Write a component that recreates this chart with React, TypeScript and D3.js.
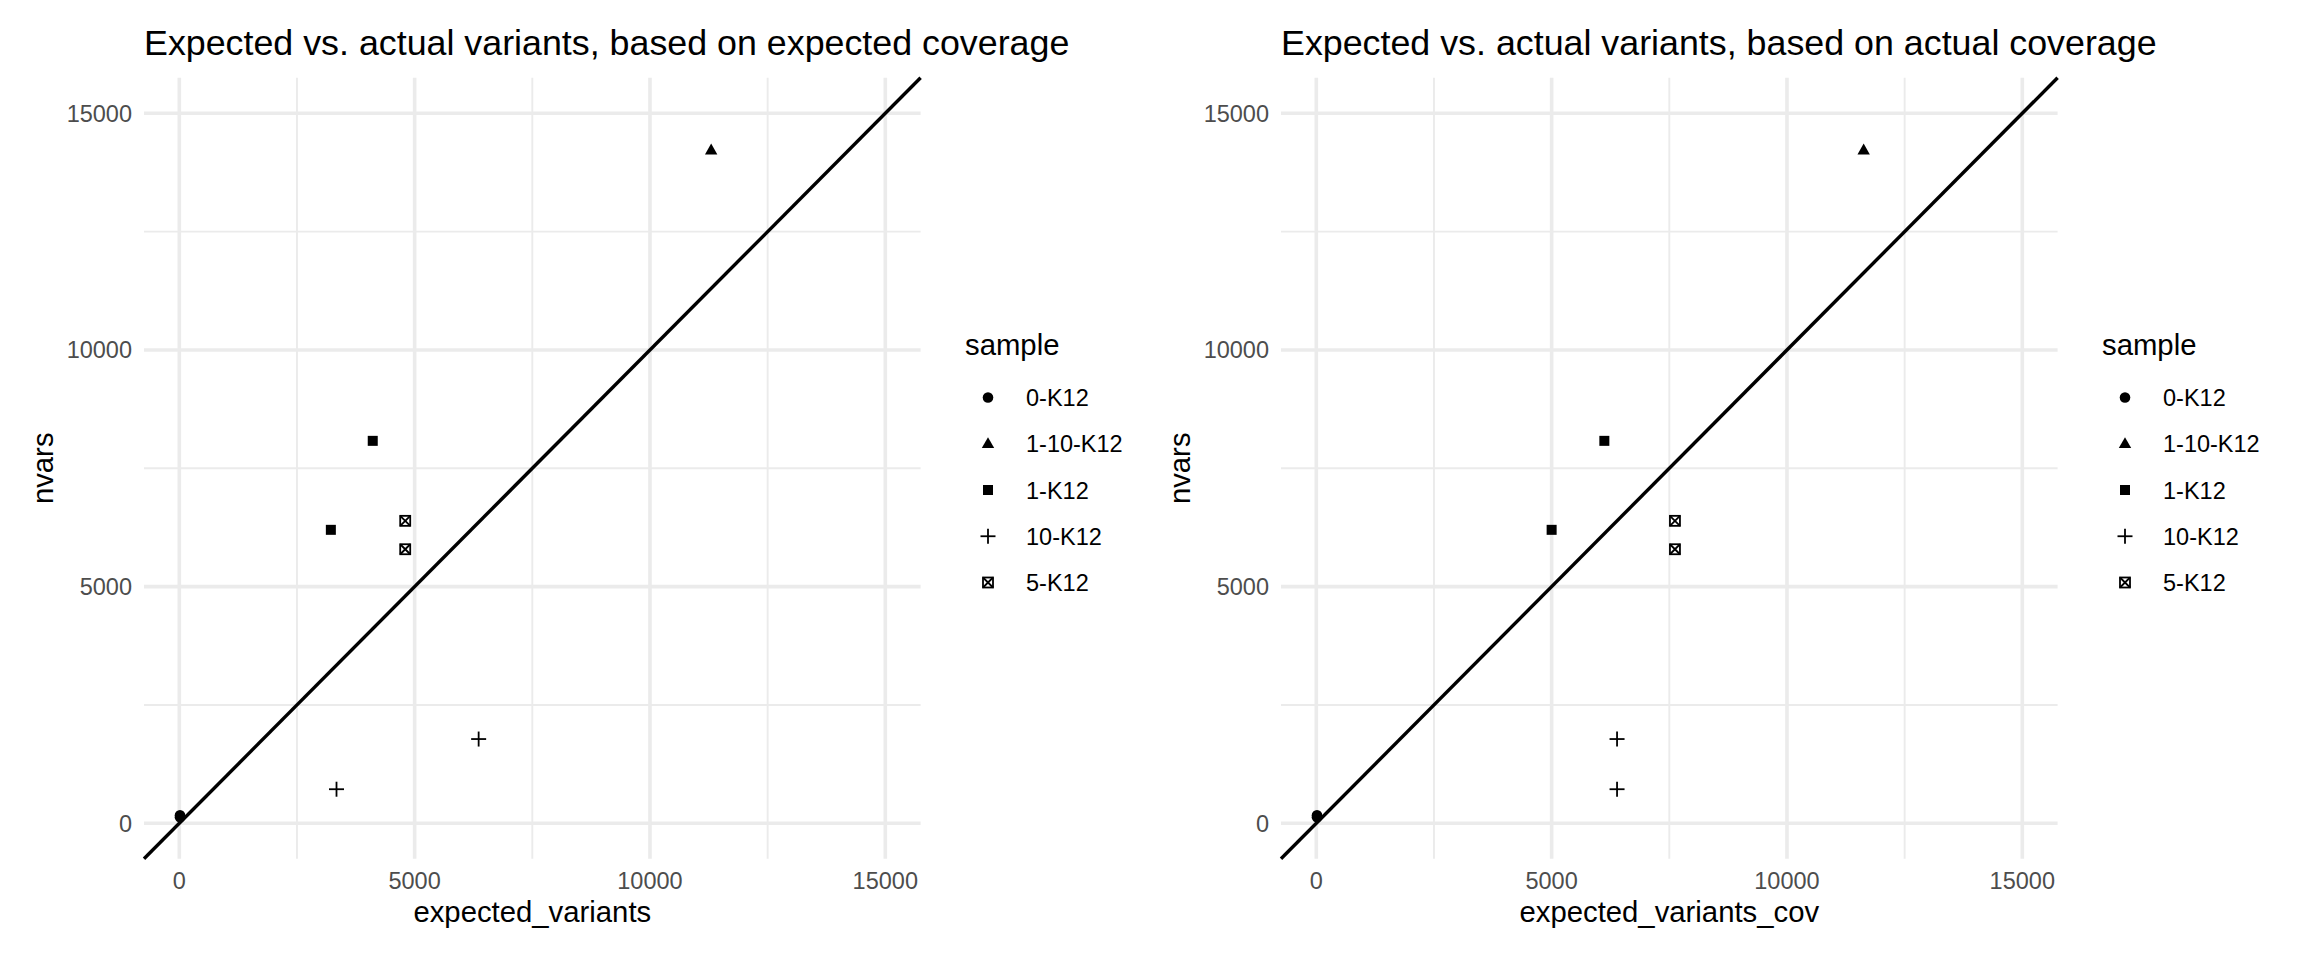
import React from 'react';
import * as d3 from 'd3';

// samples in legend order
const samples = ['0-K12', '1-10-K12', '1-K12', '10-K12', '5-K12'];

// one entry per point
const pointSample = ['0-K12', '0-K12', '1-10-K12', '1-K12', '1-K12', '10-K12', '10-K12', '5-K12', '5-K12'];
const nvars = [170, 130, 14220, 8080, 6200, 1780, 720, 6390, 5790];
const expectedVariants = [15, 15, 11300, 4110, 3220, 6360, 3340, 4800, 4800];
const expectedVariantsCov = [15, 15, 11630, 6120, 5000, 6390, 6390, 7620, 7620];

const majorTicks = [0, 5000, 10000, 15000];
const minorTicks = [2500, 7500, 12500];
const limits: [number, number] = [-750, 15750];

const FONT = '"Liberation Sans", Arial, Helvetica, sans-serif';
const GRID = '#EBEBEB';

function Shape({ sample, x, y }: { sample: string; x: number; y: number }) {
  switch (sample) {
    case '0-K12':
      return <circle cx={x} cy={y} r={5.3} fill="#000" />;
    case '1-10-K12': {
      const p = d3.path();
      p.moveTo(x, y - 6.6);
      p.lineTo(x + 6.2, y + 4.2);
      p.lineTo(x - 6.2, y + 4.2);
      p.closePath();
      return <path d={p.toString()} fill="#000" />;
    }
    case '1-K12':
      return <rect x={x - 5} y={y - 5} width={10} height={10} fill="#000" />;
    case '10-K12':
      return (
        <g stroke="#000" strokeWidth={1.8}>
          <line x1={x - 7.5} x2={x + 7.5} y1={y} y2={y} />
          <line x1={x} x2={x} y1={y - 7.5} y2={y + 7.5} />
        </g>
      );
    default:
      return (
        <g stroke="#000" strokeWidth={1.8} fill="none">
          <rect x={x - 5} y={y - 5} width={10} height={10} />
          <line x1={x - 5} x2={x + 5} y1={y - 5} y2={y + 5} />
          <line x1={x - 5} x2={x + 5} y1={y + 5} y2={y - 5} />
        </g>
      );
  }
}

function Panel({ off, title, xTitle, xs }: { off: number; title: string; xTitle: string; xs: number[] }) {
  const x = d3.scaleLinear().domain(limits).range([144 + off, 920.6 + off]);
  const y = d3.scaleLinear().domain(limits).range([858.8, 77.8]);
  const [x0, x1] = x.range();
  const [y0, y1] = y.range();
  const legendY = d3.scalePoint<string>().domain(samples).range([397.5, 582.5]);

  return (
    <g fontFamily={FONT}>
      <text x={x0} y={55} fontSize={35.8} fill="#000">{title}</text>

      {minorTicks.map(t => (
        <g key={'m' + t} stroke={GRID} strokeWidth={1.9}>
          <line x1={x(t)} x2={x(t)} y1={y0} y2={y1} />
          <line x1={x0} x2={x1} y1={y(t)} y2={y(t)} />
        </g>
      ))}
      {majorTicks.map(t => (
        <g key={'M' + t} stroke={GRID} strokeWidth={3.6}>
          <line x1={x(t)} x2={x(t)} y1={y0} y2={y1} />
          <line x1={x0} x2={x1} y1={y(t)} y2={y(t)} />
        </g>
      ))}

      {/* y = x reference line */}
      <line x1={x(limits[0])} y1={y(limits[0])} x2={x(limits[1])} y2={y(limits[1])} stroke="#000" strokeWidth={3.4} />

      {pointSample.map((s, i) => (
        <Shape key={i} sample={s} x={x(xs[i])} y={y(nvars[i])} />
      ))}

      {majorTicks.map(t => (
        <text key={'yt' + t} x={132 + off} y={y(t) + 8.4} fontSize={23.5} fill="#4D4D4D" textAnchor="end">{t}</text>
      ))}
      {majorTicks.map(t => (
        <text key={'xt' + t} x={x(t)} y={889} fontSize={23.5} fill="#4D4D4D" textAnchor="middle">{t}</text>
      ))}

      <text x={(x0 + x1) / 2} y={922} fontSize={29.3} textAnchor="middle">{xTitle}</text>
      <text transform={`translate(${53 + off},${(y0 + y1) / 2}) rotate(-90)`} fontSize={29.3} textAnchor="middle">nvars</text>

      <text x={965 + off} y={355} fontSize={29.3}>sample</text>
      {samples.map(s => (
        <g key={'lg' + s}>
          <Shape sample={s} x={988 + off} y={legendY(s)!} />
          <text x={1026 + off} y={legendY(s)! + 8.5} fontSize={23.5}>{s}</text>
        </g>
      ))}
    </g>
  );
}

export default function App() {
  return (
    <svg width={2304} height={960} style={{ position: 'absolute', left: 0, top: 0, background: '#fff' }}>
      <rect width={2304} height={960} fill="#fff" />
      <Panel off={0} title="Expected vs. actual variants, based on expected coverage" xTitle="expected_variants" xs={expectedVariants} />
      <Panel off={1137} title="Expected vs. actual variants, based on actual coverage" xTitle="expected_variants_cov" xs={expectedVariantsCov} />
    </svg>
  );
}
